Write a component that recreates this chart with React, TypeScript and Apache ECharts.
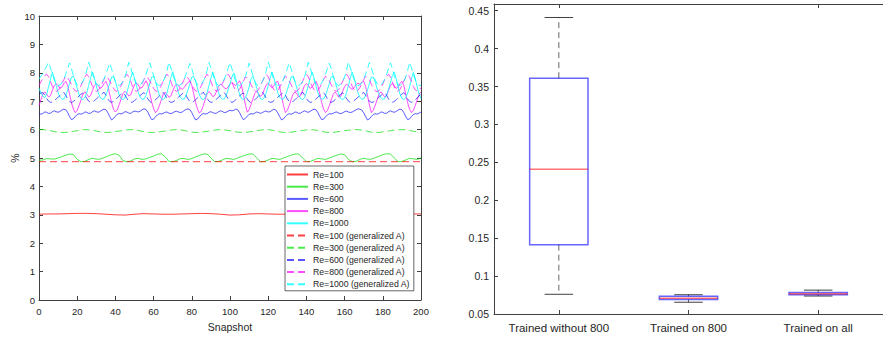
import React, { useEffect, useRef } from 'react';
import * as echarts from 'echarts';

// ---------- Left panel: reconstruction error (%) per snapshot ----------
const snapshotMin = 0;
const snapshotMax = 200;

// Re=100 (step 5 snapshots)
const re100Step = 5;
const re100 = [3.02, 3.03, 3.03, 3.04, 3.05, 3.05, 3.04, 3.02, 3.0, 2.99, 3.02, 3.04, 3.03, 3.02, 3.02, 3.03, 3.04, 3.05, 3.04, 3.02, 2.99, 3.0, 3.03, 3.04, 3.03, 3.02, 3.02, 3.03, 3.04, 3.05, 3.04, 3.02, 2.99, 3.0, 3.03, 3.04, 3.03, 3.02, 3.02, 3.03, 3.03];

// Re=300 (step 2 snapshots)
const re300Step = 2;
const re300 = [
  4.92, 4.93, 4.98, 4.97, 4.96, 5.0, 5.05, 5.1, 5.14,
  5.12, 4.95, 4.87, 4.88, 4.95, 4.99, 4.96, 4.96, 5.01, 5.06, 5.12, 5.15,
  5.09, 4.91, 4.87, 4.89, 4.97, 4.99, 4.95, 4.97, 5.02, 5.07, 5.13, 5.15,
  5.05, 4.88, 4.87, 4.91, 4.98, 4.98, 4.95, 4.98, 5.04, 5.09, 5.14, 5.14,
  5.0, 4.87, 4.88, 4.93, 4.99, 4.97, 4.95, 5.0, 5.05, 5.1, 5.14, 5.14,
  5.0, 4.87, 4.88, 4.93, 4.99, 4.97, 4.95, 5.0, 5.05, 5.1, 5.14, 5.14,
  5.0, 4.87, 4.88, 4.93, 4.99, 4.97, 4.95, 5.0, 5.05, 5.1, 5.14, 5.12,
  4.95, 4.87, 4.88, 4.95, 4.99, 4.96, 4.96, 5.01, 5.06, 5.12, 5.15, 5.14,
  5.0, 4.87, 4.88, 4.93, 4.99, 4.97, 4.95, 5.0,
];

// Re=600 (every snapshot)
const re600Step = 1;
const re600 = [
  6.56, 6.54, 6.57, 6.62, 6.61, 6.57, 6.58, 6.63, 6.66, 6.63, 6.61, 6.64, 6.69, 6.72, 6.7, 6.6, 6.46,
  6.35, 6.38, 6.46, 6.53, 6.56, 6.54, 6.57, 6.62, 6.61, 6.57, 6.58, 6.63, 6.66, 6.63, 6.61, 6.64, 6.69, 6.72, 6.7, 6.6, 6.46,
  6.34, 6.39, 6.47, 6.54, 6.57, 6.55, 6.58, 6.63, 6.62, 6.58, 6.57, 6.62, 6.65, 6.64, 6.62, 6.65, 6.7, 6.73, 6.71, 6.61, 6.47,
  6.35, 6.37, 6.45, 6.52, 6.56, 6.55, 6.57, 6.61, 6.62, 6.58, 6.56, 6.59, 6.63, 6.65, 6.62, 6.6, 6.62, 6.67, 6.71, 6.73, 6.7, 6.6, 6.46,
  6.34, 6.37, 6.45, 6.53, 6.57, 6.55, 6.56, 6.61, 6.63, 6.6, 6.57, 6.58, 6.63, 6.66, 6.64, 6.6, 6.61, 6.65, 6.68, 6.66, 6.68, 6.72, 6.7, 6.6, 6.46,
  6.35, 6.39, 6.47, 6.54, 6.56, 6.55, 6.58, 6.62, 6.6, 6.57, 6.6, 6.64, 6.65, 6.62, 6.63, 6.68, 6.72, 6.69, 6.59, 6.46,
  6.34, 6.38, 6.46, 6.53, 6.56, 6.54, 6.57, 6.62, 6.61, 6.57, 6.58, 6.63, 6.66, 6.63, 6.61, 6.64, 6.69, 6.72, 6.7, 6.6, 6.46,
  6.35, 6.37, 6.45, 6.52, 6.56, 6.55, 6.57, 6.61, 6.62, 6.58, 6.56, 6.59, 6.63, 6.65, 6.62, 6.6, 6.62, 6.66, 6.7, 6.73, 6.72, 6.69, 6.59, 6.46,
  6.34, 6.38, 6.46, 6.53, 6.56, 6.54, 6.57, 6.62, 6.61, 6.57, 6.58, 6.63, 6.66, 6.63, 6.61, 6.64, 6.69, 6.72, 6.7, 6.6, 6.46,
  6.35, 6.38, 6.46, 6.53, 6.56, 6.55, 6.58, 6.62,
];

// Re=800 (every snapshot)
const re800Step = 1;
const re800 = [
  6.85, 7.05, 7.25, 7.33, 7.25, 7.15, 7.2, 7.38, 7.55, 7.62, 7.55, 7.45, 7.5, 7.62, 7.7, 7.55, 7.25, 6.95, 6.72,
  6.6, 6.68, 6.85, 7.05, 7.25, 7.33, 7.25, 7.15, 7.2, 7.38, 7.55, 7.62, 7.55, 7.45, 7.5, 7.62, 7.7, 7.55, 7.25, 6.95, 6.72,
  6.62, 6.7, 6.88, 7.08, 7.27, 7.35, 7.28, 7.18, 7.22, 7.4, 7.58, 7.65, 7.57, 7.46, 7.48, 7.6, 7.72, 7.58, 7.28, 6.97, 6.73,
  6.6, 6.67, 6.84, 7.04, 7.24, 7.32, 7.24, 7.14, 7.18, 7.35, 7.52, 7.6, 7.55, 7.46, 7.42, 7.48, 7.58, 7.66, 7.7, 7.56, 7.26, 6.95, 6.72,
  6.58, 6.66, 6.84, 7.05, 7.26, 7.34, 7.26, 7.16, 7.2, 7.36, 7.52, 7.6, 7.56, 7.47, 7.43, 7.5, 7.6, 7.66, 7.6, 7.55, 7.64, 7.72, 7.56, 7.24, 6.9,
  6.61, 6.7, 6.88, 7.08, 7.27, 7.34, 7.26, 7.17, 7.24, 7.42, 7.58, 7.63, 7.54, 7.47, 7.55, 7.66, 7.7, 7.5, 7.18, 6.85,
  6.6, 6.68, 6.85, 7.05, 7.25, 7.33, 7.25, 7.15, 7.2, 7.38, 7.55, 7.62, 7.55, 7.45, 7.5, 7.62, 7.7, 7.55, 7.25, 6.95, 6.72,
  6.6, 6.67, 6.84, 7.04, 7.24, 7.32, 7.24, 7.14, 7.18, 7.35, 7.52, 7.6, 7.55, 7.46, 7.42, 7.48, 7.58, 7.64, 7.6, 7.66, 7.7, 7.52, 7.2, 6.86,
  6.6, 6.68, 6.85, 7.05, 7.25, 7.33, 7.25, 7.15, 7.2, 7.38, 7.55, 7.62, 7.55, 7.45, 7.5, 7.62, 7.7, 7.55, 7.25, 6.95, 6.72,
  6.6, 6.68, 6.85, 7.05, 7.25, 7.33,
];

// Re=1000 (every snapshot)
const re1000Step = 1;
const re1000 = [
  7.45, 7.3, 7.18, 7.12, 7.25, 7.5, 7.78,
  8.02, 7.82, 7.55, 7.3, 7.14, 7.07, 7.08, 7.2, 7.4, 7.62, 7.85,
  7.88, 7.7, 7.45, 7.22, 7.09, 7.06, 7.12, 7.3, 7.55, 7.82,
  8.03, 7.82, 7.55, 7.3, 7.14, 7.07, 7.08, 7.2, 7.4, 7.62, 7.85,
  7.86, 7.7, 7.45, 7.22, 7.09, 7.06, 7.12, 7.3, 7.55, 7.82,
  8.02, 7.82, 7.55, 7.3, 7.14, 7.07, 7.08, 7.2, 7.4, 7.62, 7.85,
  7.88, 7.7, 7.45, 7.22, 7.09, 7.06, 7.12, 7.3, 7.55, 7.82,
  8.04, 7.82, 7.55, 7.3, 7.14, 7.07, 7.08, 7.2, 7.4, 7.62, 7.85,
  7.87, 7.7, 7.45, 7.22, 7.09, 7.06, 7.12, 7.3, 7.55, 7.82,
  8.02, 7.82, 7.55, 7.3, 7.14, 7.07, 7.08, 7.2, 7.4, 7.62, 7.85,
  8.0, 7.8, 7.5, 7.25, 7.1, 7.06, 7.12, 7.28, 7.5, 7.78,
  7.88, 7.7, 7.45, 7.22, 7.09, 7.06, 7.12, 7.3, 7.55, 7.82,
  8.03, 7.82, 7.55, 7.3, 7.14, 7.07, 7.08, 7.2, 7.4, 7.62, 7.85,
  7.86, 7.7, 7.45, 7.22, 7.09, 7.06, 7.12, 7.3, 7.55, 7.82,
  8.02, 7.82, 7.55, 7.3, 7.14, 7.07, 7.08, 7.2, 7.4, 7.62, 7.85,
  7.88, 7.7, 7.45, 7.22, 7.09, 7.06, 7.12, 7.3, 7.55, 7.82,
  8.03, 7.82, 7.55, 7.3, 7.14, 7.07, 7.08, 7.2, 7.4, 7.62, 7.85,
  7.85, 7.68, 7.45, 7.25, 7.12, 7.07, 7.1, 7.22, 7.42, 7.65, 7.9,
  8.02, 7.8, 7.5, 7.25, 7.1, 7.06, 7.12, 7.28, 7.5, 7.78,
  8.02, 7.8, 7.5, 7.25, 7.1,
];

// Re=100 (generalized A)
const re100GenStep = 20;
const re100Gen = [4.87, 4.87, 4.87, 4.87, 4.87, 4.87, 4.87, 4.87, 4.87, 4.87, 4.87];

// Re=300 (generalized A), step 2
const re300GenStep = 2;
const re300Gen = [
  6.0, 6.0, 5.98, 5.96, 5.93, 5.91, 5.9, 5.9, 5.92, 5.94, 5.96, 5.98,
  6.0, 5.99, 5.98, 5.95, 5.92, 5.9, 5.9, 5.91, 5.93, 5.95, 5.97, 5.99,
  6.0, 5.99, 5.97, 5.94, 5.91, 5.9, 5.9, 5.91, 5.93, 5.95, 5.97, 5.99,
  6.0, 5.99, 5.97, 5.94, 5.91, 5.9, 5.9, 5.92, 5.94, 5.96, 5.98, 6.0,
  6.0, 5.98, 5.96, 5.93, 5.91, 5.9, 5.9, 5.92, 5.94, 5.96, 5.98, 6.0,
  6.0, 5.98, 5.95, 5.92, 5.9, 5.9, 5.91, 5.93, 5.95, 5.97, 5.99, 6.0,
  5.99, 5.97, 5.94, 5.91, 5.9, 5.9, 5.92, 5.94, 5.96, 5.98, 5.99, 6.0,
  5.99, 5.97, 5.94, 5.91, 5.9, 5.9, 5.92, 5.94, 5.96, 5.98, 5.99, 6.0,
  5.99, 5.97, 5.94, 5.92, 5.91,
];

// Re=600 (generalized A), every snapshot
const re600GenStep = 1;
const re600Gen = [
  7.26, 7.29,
  7.3, 7.22, 7.1, 7.0, 6.96, 6.97, 7.02, 7.08, 7.14, 7.2, 7.26,
  7.31, 7.21, 7.08, 6.99, 6.95, 6.99, 7.05, 7.12, 7.18, 7.25,
  7.29, 7.22, 7.1, 7.0, 6.96, 6.97, 7.02, 7.08, 7.14, 7.2, 7.26,
  7.32, 7.21, 7.08, 6.99, 6.96, 6.99, 7.05, 7.12, 7.18, 7.25,
  7.3, 7.22, 7.1, 7.0, 6.96, 6.97, 7.02, 7.08, 7.14, 7.2, 7.26,
  7.3, 7.21, 7.08, 6.99, 6.95, 6.99, 7.05, 7.12, 7.18, 7.25,
  7.31, 7.22, 7.1, 7.0, 6.96, 6.97, 7.02, 7.08, 7.14, 7.2, 7.26,
  7.3, 7.21, 7.08, 6.99, 6.96, 6.99, 7.05, 7.12, 7.18, 7.25,
  7.32, 7.22, 7.1, 7.0, 6.96, 6.97, 7.02, 7.08, 7.14, 7.2, 7.26,
  7.3, 7.21, 7.08, 6.99, 6.96, 6.99, 7.05, 7.12, 7.18, 7.25,
  7.29, 7.2, 7.08, 6.99, 6.95, 6.99, 7.05, 7.12, 7.18, 7.25,
  7.31, 7.22, 7.1, 7.0, 6.96, 6.97, 7.02, 7.08, 7.14, 7.2, 7.26,
  7.3, 7.21, 7.08, 6.99, 6.96, 6.99, 7.05, 7.12, 7.18, 7.25,
  7.32, 7.22, 7.1, 7.0, 6.96, 6.97, 7.02, 7.08, 7.14, 7.2, 7.26,
  7.3, 7.21, 7.08, 6.99, 6.96, 6.99, 7.05, 7.12, 7.18, 7.25,
  7.3, 7.22, 7.1, 7.0, 6.96, 6.97, 7.02, 7.08, 7.14, 7.2, 7.26,
  7.31, 7.22, 7.1, 7.0, 6.96, 6.97, 7.02, 7.08, 7.14, 7.2, 7.26,
  7.3, 7.21, 7.08, 6.99, 6.96, 6.99, 7.05, 7.12, 7.18, 7.25,
  7.3, 7.21, 7.08, 6.99, 6.96, 6.99, 7.05, 7.12, 7.18, 7.25,
];

// Re=800 (generalized A), every snapshot
const re800GenStep = 1;
const re800Gen = [
  7.55, 7.68, 7.8, 7.9,
  7.95, 7.86, 7.7, 7.52, 7.4, 7.35, 7.38, 7.48, 7.62, 7.76, 7.88,
  7.82, 7.72, 7.58, 7.45, 7.36, 7.35, 7.42, 7.55, 7.7, 7.85,
  7.95, 7.86, 7.7, 7.52, 7.4, 7.35, 7.38, 7.48, 7.62, 7.76, 7.88,
  7.82, 7.72, 7.58, 7.45, 7.36, 7.35, 7.42, 7.55, 7.7, 7.85,
  7.95, 7.86, 7.7, 7.52, 7.4, 7.35, 7.38, 7.48, 7.62, 7.76, 7.88,
  7.82, 7.72, 7.58, 7.45, 7.36, 7.35, 7.42, 7.55, 7.7, 7.85,
  7.95, 7.86, 7.7, 7.52, 7.4, 7.35, 7.38, 7.48, 7.62, 7.76, 7.88,
  7.82, 7.72, 7.58, 7.45, 7.36, 7.35, 7.42, 7.55, 7.7, 7.85,
  7.95, 7.86, 7.7, 7.52, 7.4, 7.35, 7.38, 7.48, 7.62, 7.76, 7.88,
  7.95, 7.85, 7.68, 7.5, 7.38, 7.35, 7.42, 7.55, 7.7, 7.85,
  7.82, 7.72, 7.58, 7.45, 7.36, 7.35, 7.42, 7.55, 7.7, 7.85,
  7.95, 7.86, 7.7, 7.52, 7.4, 7.35, 7.38, 7.48, 7.62, 7.76, 7.88,
  7.82, 7.72, 7.58, 7.45, 7.36, 7.35, 7.42, 7.55, 7.7, 7.85,
  7.95, 7.86, 7.7, 7.52, 7.4, 7.35, 7.38, 7.48, 7.62, 7.76, 7.88,
  7.82, 7.72, 7.58, 7.45, 7.36, 7.35, 7.42, 7.55, 7.7, 7.85,
  7.95, 7.86, 7.7, 7.52, 7.4, 7.35, 7.38, 7.48, 7.62, 7.76, 7.88,
  7.82, 7.74, 7.6, 7.46, 7.37, 7.34, 7.37, 7.46, 7.6, 7.76, 7.88,
  7.95, 7.85, 7.68, 7.5, 7.38, 7.35, 7.42, 7.55, 7.7, 7.85,
  7.95, 7.86, 7.7, 7.52, 7.4, 7.35, 7.38, 7.48,
];

// Re=1000 (generalized A), every snapshot
const re1000GenStep = 1;
const re1000Gen = [
  7.78, 7.88, 7.98, 8.1, 8.24,
  8.37, 8.18, 7.95, 7.75, 7.62, 7.55, 7.57, 7.65, 7.78, 7.95, 8.15,
  8.35, 8.15, 7.9, 7.7, 7.58, 7.55, 7.6, 7.7, 7.85, 8.08,
  8.38, 8.18, 7.95, 7.75, 7.62, 7.55, 7.57, 7.65, 7.78, 7.95, 8.15,
  8.34, 8.15, 7.9, 7.7, 7.58, 7.55, 7.6, 7.7, 7.85, 8.08,
  8.37, 8.18, 7.95, 7.75, 7.62, 7.55, 7.57, 7.65, 7.78, 7.95, 8.15,
  8.35, 8.15, 7.9, 7.7, 7.58, 7.55, 7.6, 7.7, 7.85, 8.08,
  8.38, 8.18, 7.95, 7.75, 7.62, 7.55, 7.57, 7.65, 7.78, 7.95, 8.15,
  8.33, 8.15, 7.9, 7.7, 7.58, 7.55, 7.6, 7.7, 7.85, 8.08,
  8.37, 8.18, 7.95, 7.75, 7.62, 7.55, 7.57, 7.65, 7.78, 7.95, 8.15,
  8.36, 8.15, 7.9, 7.7, 7.58, 7.55, 7.6, 7.7, 7.85, 8.08,
  8.34, 8.15, 7.9, 7.7, 7.58, 7.55, 7.6, 7.7, 7.85, 8.08,
  8.38, 8.18, 7.95, 7.75, 7.62, 7.55, 7.57, 7.65, 7.78, 7.95, 8.15,
  8.35, 8.15, 7.9, 7.7, 7.58, 7.55, 7.6, 7.7, 7.85, 8.08,
  8.37, 8.18, 7.95, 7.75, 7.62, 7.55, 7.57, 7.65, 7.78, 7.95, 8.15,
  8.34, 8.15, 7.9, 7.7, 7.58, 7.55, 7.6, 7.7, 7.85, 8.08,
  8.38, 8.18, 7.95, 7.75, 7.62, 7.55, 7.57, 7.65, 7.78, 7.95, 8.15,
  8.36, 8.18, 7.95, 7.75, 7.62, 7.55, 7.57, 7.65, 7.78, 7.95, 8.15,
  8.35, 8.15, 7.9, 7.7, 7.58, 7.55, 7.6, 7.7, 7.85, 8.08,
  8.37, 8.18, 7.95, 7.75, 7.62, 7.55, 7.57,
];

// ---------- Right panel: box plot ----------
const boxCategories = ['Trained without 800', 'Trained on 800', 'Trained on all'];
const boxMin = [0.076, 0.0655, 0.0737];
const boxQ1 = [0.1414, 0.069, 0.0754];
const boxMedian = [0.241, 0.0707, 0.0768];
const boxQ3 = [0.361, 0.0733, 0.0785];
const boxMax = [0.441, 0.0754, 0.0815];

const FONT = '"Liberation Sans", Arial, Helvetica, sans-serif';
const AXIS_COLOR = '#404040';
const TEXT_COLOR = '#262626';

type LineDef = { name: string; color: string; dashed: boolean; step: number; values: number[]; opacity: number };

const lineDefs: LineDef[] = [
  { name: 'Re=100', color: '#ff0000', dashed: false, step: re100Step, values: re100, opacity: 0.75 },
  { name: 'Re=300', color: '#00e000', dashed: false, step: re300Step, values: re300, opacity: 0.7 },
  { name: 'Re=600', color: '#0000ff', dashed: false, step: re600Step, values: re600, opacity: 0.65 },
  { name: 'Re=800', color: '#ff00ff', dashed: false, step: re800Step, values: re800, opacity: 0.7 },
  { name: 'Re=1000', color: '#00ffff', dashed: false, step: re1000Step, values: re1000, opacity: 0.8 },
  { name: 'Re=100 (generalized A)', color: '#ff0000', dashed: true, step: re100GenStep, values: re100Gen, opacity: 0.75 },
  { name: 'Re=300 (generalized A)', color: '#00e000', dashed: true, step: re300GenStep, values: re300Gen, opacity: 0.7 },
  { name: 'Re=600 (generalized A)', color: '#0000ff', dashed: true, step: re600GenStep, values: re600Gen, opacity: 0.65 },
  { name: 'Re=800 (generalized A)', color: '#ff00ff', dashed: true, step: re800GenStep, values: re800Gen, opacity: 0.7 },
  { name: 'Re=1000 (generalized A)', color: '#00ffff', dashed: true, step: re1000GenStep, values: re1000Gen, opacity: 0.8 },
];

function axisCommon() {
  return {
    axisLine: { show: true, onZero: false, lineStyle: { color: AXIS_COLOR, width: 1 } },
    axisTick: { show: true, inside: true, length: 4, lineStyle: { color: AXIS_COLOR, width: 1 } },
    splitLine: { show: false },
  };
}

export default function App() {
  const ref = useRef<HTMLDivElement>(null);

  useEffect(() => {
    if (!ref.current) return;
    const chart = echarts.init(ref.current, undefined, { renderer: 'svg' });

    const lineSeries = lineDefs.map((d) => ({
      type: 'line',
      name: d.name,
      xAxisIndex: 0,
      yAxisIndex: 0,
      data: d.values.map((v, i) => [snapshotMin + i * d.step, v]),
      symbol: 'none',
      showSymbol: false,
      silent: true,
      color: d.color,
      lineStyle: { color: d.color, width: 1, opacity: d.opacity, type: d.dashed ? [7, 4] : 'solid' },
      itemStyle: { color: d.color, opacity: 0 },
    }));

    const boxSeries = {
      type: 'custom',
      xAxisIndex: 2,
      yAxisIndex: 2,
      silent: true,
      data: boxCategories.map((_, i) => [i, boxMin[i], boxQ1[i], boxMedian[i], boxQ3[i], boxMax[i]]),
      encode: { x: 0, y: [1, 2, 3, 4, 5] },
      renderItem: (_params: any, api: any) => {
        const idx = api.value(0);
        const band = api.size([1, 0])[0];
        const pMin = api.coord([idx, api.value(1)]);
        const pQ1 = api.coord([idx, api.value(2)]);
        const pMed = api.coord([idx, api.value(3)]);
        const pQ3 = api.coord([idx, api.value(4)]);
        const pMax = api.coord([idx, api.value(5)]);
        const cx = pMin[0];
        const bh = band * 0.225;
        const ch = band * 0.11;
        const whisker = { stroke: '#000', lineWidth: 1, lineDash: [6, 4], opacity: 0.6 };
        const cap = { stroke: '#000', lineWidth: 1, opacity: 0.75 };
        return {
          type: 'group',
          children: [
            { type: 'line', shape: { x1: cx, y1: pQ3[1], x2: cx, y2: pMax[1] }, style: whisker },
            { type: 'line', shape: { x1: cx, y1: pQ1[1], x2: cx, y2: pMin[1] }, style: whisker },
            { type: 'line', shape: { x1: cx - ch, y1: pMax[1], x2: cx + ch, y2: pMax[1] }, style: cap },
            { type: 'line', shape: { x1: cx - ch, y1: pMin[1], x2: cx + ch, y2: pMin[1] }, style: cap },
            {
              type: 'rect',
              shape: { x: cx - bh, y: pQ3[1], width: 2 * bh, height: pQ1[1] - pQ3[1] },
              style: { fill: 'none', stroke: '#0000ff', lineWidth: 1.5, opacity: 0.6 },
            },
            {
              type: 'line',
              shape: { x1: cx - bh, y1: pMed[1], x2: cx + bh, y2: pMed[1] },
              style: { stroke: '#ff0000', lineWidth: 1.5, opacity: 0.55 },
            },
          ],
        };
      },
    };

    const option: any = {
      animation: false,
      backgroundColor: '#ffffff',
      textStyle: { fontFamily: FONT, color: TEXT_COLOR },
      grid: [
        { left: 39, top: 16, width: 382, height: 284, containLabel: false },
        { left: 494, top: 4, width: 396, height: 310, containLabel: false },
      ],
      legend: {
        orient: 'vertical',
        left: 285,
        top: 166,
        itemWidth: 21,
        itemHeight: 8,
        itemGap: 3.2,
        padding: [4, 4, 2, 1],
        backgroundColor: '#ffffff',
        borderColor: '#262626',
        borderWidth: 0.7,
        borderRadius: 0,
        selectedMode: false,
        itemStyle: { opacity: 0, borderWidth: 0 },
        textStyle: { fontFamily: FONT, fontSize: 8.7, color: TEXT_COLOR, lineHeight: 9 },
        data: lineDefs.map((d) => d.name),
      },
      xAxis: [
        {
          type: 'value',
          gridIndex: 0,
          position: 'bottom',
          min: snapshotMin,
          max: snapshotMax,
          interval: 20,
          ...axisCommon(),
          axisLabel: { show: true, fontSize: 9.5, color: TEXT_COLOR, fontFamily: FONT, margin: 6 },
          name: 'Snapshot',
          nameLocation: 'middle',
          nameGap: 21,
          nameTextStyle: { fontSize: 10.5, color: TEXT_COLOR, fontFamily: FONT, verticalAlign: 'top' },
        },
        {
          type: 'value',
          gridIndex: 0,
          position: 'top',
          min: snapshotMin,
          max: snapshotMax,
          interval: 20,
          ...axisCommon(),
          axisLabel: { show: false },
        },
        {
          type: 'category',
          gridIndex: 1,
          position: 'bottom',
          data: boxCategories,
          boundaryGap: true,
          ...axisCommon(),
          axisTick: { show: true, inside: true, length: 4, alignWithLabel: true, lineStyle: { color: AXIS_COLOR } },
          axisLabel: { show: true, fontSize: 11.5, color: TEXT_COLOR, fontFamily: FONT, margin: 8, interval: 0 },
        },
        {
          type: 'category',
          gridIndex: 1,
          position: 'top',
          data: boxCategories,
          boundaryGap: true,
          ...axisCommon(),
          axisTick: { show: true, inside: true, length: 4, alignWithLabel: true, lineStyle: { color: AXIS_COLOR } },
          axisLabel: { show: false },
        },
      ],
      yAxis: [
        {
          type: 'value',
          gridIndex: 0,
          position: 'left',
          min: 0,
          max: 10,
          interval: 1,
          ...axisCommon(),
          axisLabel: { show: true, fontSize: 9.5, color: TEXT_COLOR, fontFamily: FONT, margin: 4 },
          name: '%',
          nameLocation: 'middle',
          nameRotate: 90,
          nameGap: 19,
          nameTextStyle: { fontSize: 10.5, color: TEXT_COLOR, fontFamily: FONT },
        },
        {
          type: 'value',
          gridIndex: 0,
          position: 'right',
          min: 0,
          max: 10,
          interval: 1,
          ...axisCommon(),
          axisLabel: { show: false },
        },
        {
          type: 'value',
          gridIndex: 1,
          position: 'left',
          min: 0.05,
          max: 0.4588,
          interval: 0.05,
          ...axisCommon(),
          axisLabel: {
            show: true,
            fontSize: 10.5,
            color: TEXT_COLOR,
            fontFamily: FONT,
            margin: 5,
            showMaxLabel: false,
            formatter: (v: number) => String(Math.round(v * 100) / 100),
          },
        },
      ],
      series: [...lineSeries, boxSeries],
    };

    chart.setOption(option);
    return () => chart.dispose();
  }, []);

  return (
    <div
      ref={ref}
      style={{ position: 'fixed', left: 0, top: 0, width: 883, height: 337, background: '#fff' }}
    />
  );
}
